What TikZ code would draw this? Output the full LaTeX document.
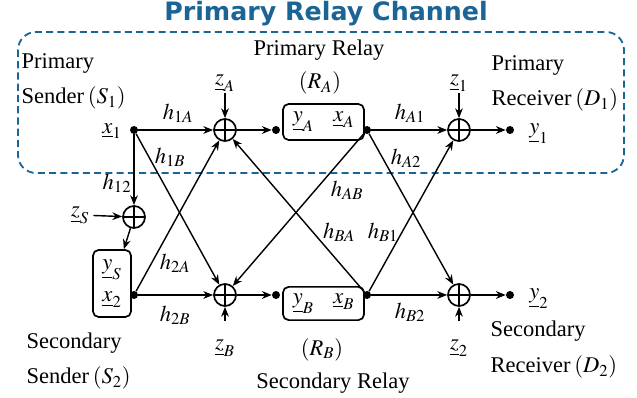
\documentclass[tikz,border=0pt]{standalone}
\usepackage{mathptmx}
\usepackage{fontspec}
\setmainfont{Liberation Serif}
\newfontfamily\titlefont{DejaVu Sans}
\usetikzlibrary{arrows.meta}
\definecolor{chanblue}{RGB}{26,100,150}

\tikzstyle{every node}=[font={\fontsize{16}{19}\selectfont}, inner sep=1pt]
\tikzstyle{adder}=[draw, circle, line width=1.2pt, minimum size=0.55cm, inner sep=0pt,
    path picture={\draw[line width=1.1pt] (path picture bounding box.north) -- (path picture bounding box.south)
        (path picture bounding box.west) -- (path picture bounding box.east);}]
\tikzstyle{dot}=[circle, fill, inner sep=0pt, minimum size=0.2cm]
\tikzstyle{box}=[draw, line width=1.2pt, rounded corners=4pt, inner sep=0pt]
\tikzstyle{link}=[line width=1pt, -{Stealth[length=7pt,width=5.5pt]}]

\begin{document}
\begin{tikzpicture}[x=0.025cm, y=-0.025cm]
    \useasboundingbox (0,0) rectangle (637,398);
    % primary channel frame
    \node [font={\titlefont\bfseries\fontsize{18}{21}\selectfont}, text=chanblue] (title) at (326,14) {Primary Relay Channel};
    \draw [chanblue, line width=1.3pt, dash pattern=on 5pt off 3pt, rounded corners=0.45cm] (18,32) rectangle (624,173);

    % senders
    \node [dot] (x1) at (134,130) {};
    \node (x1lab) at (112,131) {$\underline{x}_1$};
    \node [adder] (addS) at (134,217) {};
    \node (zS) at (80,215) {$\underline{z}_S$};
    \node [box, minimum width=0.95cm, minimum height=1.675cm, align=center] (S2) at (112,283.5)
        {$\underline{y}_S$\\[4pt]$\underline{x}_2$};
    \node [dot] (x2) at (134,295) {};

    % adders in front of the relays
    \node [adder] (addA) at (225,130) {};
    \node [adder] (addB) at (225,295) {};
    \node (zA) at (225,83) {$\underline{z}_A$};
    \node (zB) at (225,348) {$\underline{z}_B$};
    \coordinate (zBs) at (225,321);

    % relays
    \node [dot] (inA) at (276,130) {};
    \node [dot] (inB) at (276,295) {};
    \node [box, minimum width=2.025cm, minimum height=0.9cm] (RA) at (323.5,122) {$\underline{y}_A$\hspace{14pt}$\underline{x}_A$};
    \node [box, minimum width=2.025cm, minimum height=0.83cm] (RB) at (323.5,303.5) {$\underline{y}_B$\hspace{14pt}$\underline{x}_B$};
    \node [dot] (xA) at (367,130) {};
    \node [dot] (xB) at (367,295) {};

    % receivers
    \node [adder] (add1) at (459,130) {};
    \node [adder] (add2) at (459,295) {};
    \node (z1) at (459,83) {$\underline{z}_1$};
    \node (z2) at (459,348) {$\underline{z}_2$};
    \coordinate (z2s) at (459,321);
    \node [dot] (y1) at (510,130) {};
    \node [dot] (y2) at (510,295) {};
    \node (y1lab) at (539,134) {$\underline{y}_1$};
    \node (y2lab) at (539,299) {$\underline{y}_2$};

    % texts
    \node [anchor=west] (pS) at (20,63) {Primary};
    \node [anchor=west] (pS2) at (20,98) {Sender\,$\left(S_1\right)$};
    \node (pR) at (319,50) {Primary Relay};
    \node (pR2) at (320,83) {$\left(R_A\right)$};
    \node [anchor=west] (pD) at (490,65) {Primary};
    \node [anchor=west] (pD2) at (490,100) {Receiver\,$\left(D_1\right)$};
    \node [anchor=west] (sS) at (25,343) {Secondary};
    \node [anchor=west] (sS2) at (25,378) {Sender\,$\left(S_2\right)$};
    \node (sR) at (322,350) {$\left(R_B\right)$};
    \node (sR2) at (333,383) {Secondary Relay};
    \node [anchor=west] (sD) at (489,331) {Secondary};
    \node [anchor=west] (sD2) at (489,367) {Receiver\,$\left(D_2\right)$};

    % links
    \draw [link] (x1) -- (addA);
    \draw [link] (x1) -- (addB);
    \draw [link] (x1) -- (addS);
    \draw [link, shorten <=2pt] (zS) -- (addS);
    \draw [link] (addS) -- ([xshift=-0.2cm]S2.north east);
    \draw [link] (x2) -- (addB);
    \draw [link] (x2) -- (addA);
    \draw [link] (zA) -- (addA);
    \draw [link] (zBs) -- (addB);
    \draw [link] (addA) -- (inA);
    \draw [link] (addB) -- (inB);
    \draw [link] (xA) -- (add1);
    \draw [link] (xA) -- (add2);
    \draw [link] (xA) -- (addB);
    \draw [link] (xB) -- (addA);
    \draw [link] (xB) -- (add1);
    \draw [link] (xB) -- (add2);
    \draw [link] (z1) -- (add1);
    \draw [link] (z2s) -- (add2);
    \draw [link] (add1) -- (y1);
    \draw [link] (add2) -- (y2);

    % gains
    \node (h1A) at (178,113) {$h_{1A}$};
    \node (h1B) at (170,157) {$h_{1B}$};
    \node (h12) at (117,183) {$h_{12}$};
    \node (h2A) at (175,263) {$h_{2A}$};
    \node (h2B) at (175,315) {$h_{2B}$};
    \node (hA1) at (410,113) {$h_{A1}$};
    \node (hA2) at (406,158) {$h_{A2}$};
    \node (hAB) at (347,190) {$h_{AB}$};
    \node (hBA) at (339,232) {$h_{BA}$};
    \node (hB1) at (383,232) {$h_{B1}$};
    \node (hB2) at (410,312) {$h_{B2}$};
\end{tikzpicture}
\end{document}
